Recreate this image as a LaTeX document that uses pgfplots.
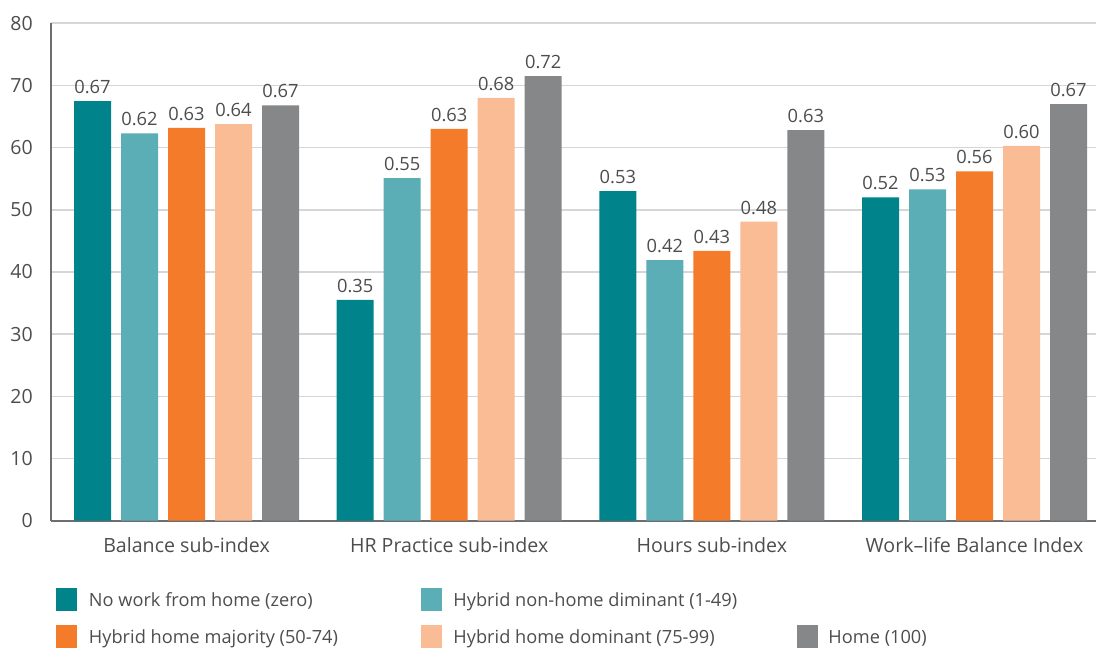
\documentclass[border=0pt]{standalone}
\usepackage{fontspec}
\setmainfont{Open Sans}
\usepackage{pgfplots}
\usepackage{pgfplotstable}
\pgfplotsset{compat=1.18}
\definecolor{cA}{HTML}{00838A}
\definecolor{cB}{HTML}{5BAEB5}
\definecolor{cC}{HTML}{F47B2A}
\definecolor{cD}{HTML}{F9BC95}
\definecolor{cE}{HTML}{868789}
\definecolor{txt}{HTML}{4D4D4F}
\definecolor{gridc}{HTML}{D6D6D6}
\definecolor{axc}{HTML}{6D6E71}

\pgfplotstableread{
x y lab
0 67.5 0.67
1 35.5 0.35
2 53.0 0.53
3 52.0 0.52
}\sA
\pgfplotstableread{
x y lab
0 62.3 0.62
1 55.1 0.55
2 41.9 0.42
3 53.3 0.53
}\sB
\pgfplotstableread{
x y lab
0 63.2 0.63
1 63.0 0.63
2 43.4 0.43
3 56.2 0.56
}\sC
\pgfplotstableread{
x y lab
0 63.8 0.64
1 68.0 0.68
2 48.1 0.48
3 60.3 0.60
}\sD
\pgfplotstableread{
x y lab
0 66.8 0.67
1 71.5 0.72
2 62.8 0.63
3 67.0 0.67
}\sE

\begin{document}
\begin{tikzpicture}
\path[use as bounding box] (-51pt,-127.3pt) rectangle (1045pt,520.7pt);
\begin{axis}[
  at={(0,0)}, anchor=south west,
  scale only axis, width=1045pt, height=497.4pt,
  xmin=-0.5159, xmax=3.4625, ymin=0, ymax=80,
  clip=false,
  ybar, bar width=37pt,
  axis x line*=bottom, axis y line*=left,
  x axis line style={-, draw=axc, line width=2pt},
  y axis line style={-, draw=axc, line width=1.8pt},
  ymajorgrids, grid style={gridc, line width=1.6pt},
  major tick length=0pt,
  xtick={0,1,2,3},
  xticklabels={Balance sub-index, HR Practice sub-index, Hours sub-index, Work{\textendash}life Balance Index},
  ytick={0,10,...,80},
  /pgf/number format/assume math mode=true,
  yticklabel style={font=\fontsize{19.5}{21}\selectfont, text=txt, inner sep=0pt, anchor=east, xshift=-18pt},
  xticklabel style={font=\fontsize{19.6}{21}\selectfont, text=txt, inner sep=0pt, anchor=base, yshift=-31.6pt},
  point meta=explicit symbolic,
  nodes near coords,
  nodes near coords style={font=\fontsize{18.3}{20}\selectfont, text=txt, inner sep=0pt, anchor=base, yshift=7.6pt},
  legend columns=3,
  legend style={at={(0.00478,-0.1359)}, anchor=north west, draw=none, fill=none,
    inner sep=0pt, outer sep=0pt, column sep=0pt, row sep=14.6pt,
    font=\fontsize{18.2}{20}\selectfont, text=txt,
    cells={anchor=base west}, nodes={inner sep=0pt}},
  legend image code/.code={\fill[#1] (0pt,-4pt) rectangle (21.5pt,18.4pt);},
]
\addplot[fill=cA, draw=none, bar shift=-94pt] table[x=x, y=y, meta=lab]{\sA};
\addlegendentry{\hspace*{11.5pt}\makebox[332pt][l]{No work from home (zero)}}
\addplot[fill=cB, draw=none, bar shift=-47pt] table[x=x, y=y, meta=lab]{\sB};
\addlegendentry{\hspace*{11pt}\makebox[343.5pt][l]{Hybrid non-home diminant (1-49)}}
\addlegendimage{empty legend}
\addlegendentry{}
\addplot[fill=cC, draw=none, bar shift=0pt] table[x=x, y=y, meta=lab]{\sC};
\addlegendentry{\hspace*{11.5pt}\makebox[332pt][l]{Hybrid home majority (50-74)}}
\addplot[fill=cD, draw=none, bar shift=47pt] table[x=x, y=y, meta=lab]{\sD};
\addlegendentry{\hspace*{11pt}\makebox[343.5pt][l]{Hybrid home dominant (75-99)}}
\addplot[fill=cE, draw=none, bar shift=94pt] table[x=x, y=y, meta=lab]{\sE};
\addlegendentry{\hspace*{10pt}Home (100)}
\end{axis}
\end{tikzpicture}
\end{document}
